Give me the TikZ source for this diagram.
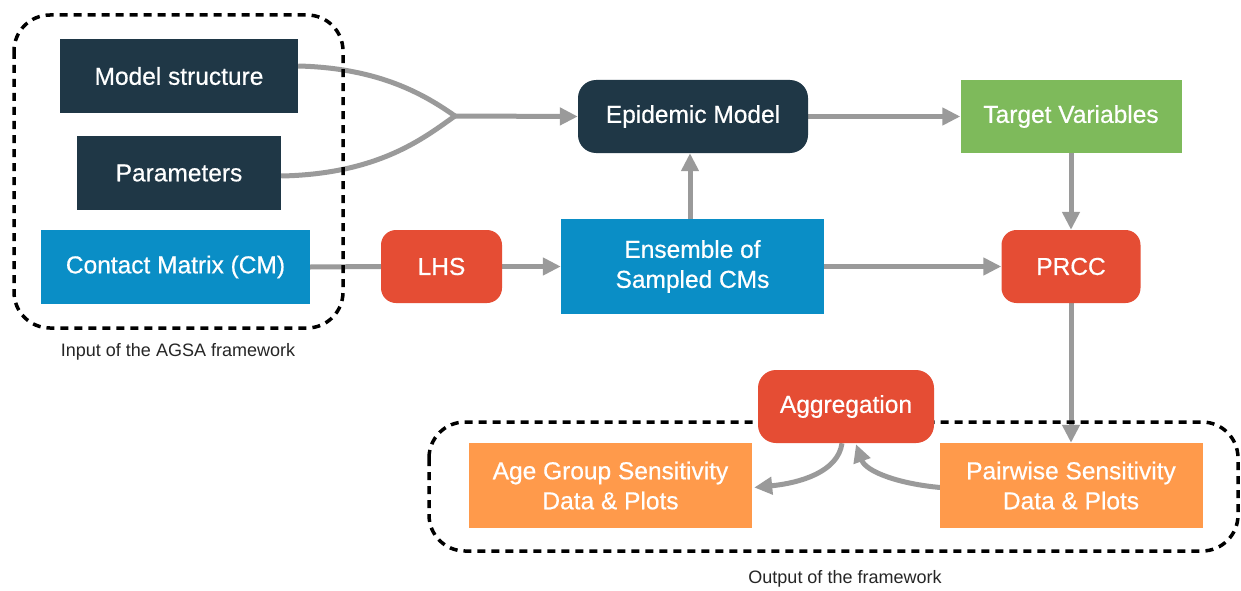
\documentclass[tikz,border=0pt]{standalone}
\usepackage{fontspec}
\setmainfont{Liberation Sans}
\newfontfamily\medfont[BoldFont={Liberation Sans},BoldFeatures={FakeBold=0.6}]{Liberation Sans}
\usetikzlibrary{arrows.meta,backgrounds,calc}

\definecolor{navy}{HTML}{1F3746}
\definecolor{skyblue}{HTML}{0A8EC6}
\definecolor{leaf}{HTML}{7EBA5B}
\definecolor{brick}{HTML}{E54D34}
\definecolor{tangerine}{HTML}{FF9A4B}
\definecolor{linkgray}{HTML}{9A9A9A}

\tikzset{
  box/.style={inner sep=0pt, align=center, text=white,
    font=\medfont\bfseries\fontsize{24.5}{30}\selectfont},
  flat/.style={box, fill=#1},
  soft/.style={box, fill=#1, rounded corners=18pt},
  link/.style={draw=linkgray, line width=5pt},
  arrow/.style={link, -{Triangle[length=18pt,width=17pt]}},
  frame/.style={draw=black, line width=3.5pt, dash pattern=on 8pt off 6pt,
    rounded corners=36pt},
  caption/.style={font=\fontsize{18}{22}\selectfont, text=black!85}
}

\begin{document}
\begin{tikzpicture}[x=1pt,y=-1pt]
\useasboundingbox (0,0) rectangle (1241,591);

% input side
\node[flat=navy, minimum width=238pt, minimum height=74pt] (model) at (179,76) {Model structure};
\node[flat=navy, minimum width=204pt, minimum height=74pt] (param) at (179,173) {Parameters};
\node[flat=skyblue, minimum width=269pt, minimum height=74pt] (cm) at (175.5,267) {Contact Matrix (CM)};

% main pipeline
\node[soft=navy, minimum width=230pt, minimum height=73pt] (epi) at (693,116.5) {Epidemic Model};
\node[flat=leaf, minimum width=221pt, minimum height=73pt] (target) at (1071,116.5) {Target Variables};
\node[soft=brick, rounded corners=15pt, minimum width=121pt, minimum height=73pt] (lhs) at (441.5,266.5) {LHS};
\node[flat=skyblue, minimum width=263pt, minimum height=95pt] (ens) at (692.5,266.5) {Ensemble of\\Sampled CMs};
\node[soft=brick, rounded corners=15pt, minimum width=139pt, minimum height=73pt] (prcc) at (1071,266.5) {PRCC};

% outputs
\node[soft=brick, minimum width=176pt, minimum height=73pt] (agg) at (846,406.5) {Aggregation};
\node[flat=tangerine, minimum width=283pt, minimum height=85pt] (age) at (610.5,485.5) {Age Group Sensitivity\\Data \& Plots};
\node[flat=tangerine, minimum width=263pt, minimum height=85pt] (pair) at (1071,485.5) {Pairwise Sensitivity\\Data \& Plots};

% captions
\node[caption] (incap) at (178,352) {Input of the AGSA framework};
\node[caption] (outcap) at (845,579) {Output of the framework};

\coordinate (join) at (455,116);

\begin{scope}[on background layer]
  \fill[white] (0,0) rectangle (1241,591);
  % connectors
  \draw[link] (model.east |- 0,66) .. controls (380,68) and (425,95) .. (join);
  \draw[link] (param.east |- 0,176) .. controls (380,174) and (425,137) .. (join);
  \draw[arrow] (join) -- (epi.west);
  \draw[arrow] (epi.east) -- (target.west);
  \draw[arrow] (target.south) -- (prcc.north);
  \draw[link] (cm.east) -- (lhs.west);
  \draw[arrow] (lhs.east) -- (ens.west);
  \draw[arrow] (ens.north -| 690,0) -- (epi.south -| 690,0);
  \draw[arrow] (ens.east) -- (prcc.west);
  \draw[arrow] (prcc.south) -- (pair.north);
  \draw[arrow] ($(agg.south)+(-4,0)$) .. controls (838,472) and (800,483) .. ($(age.east)+(2,2)$);
  \draw[arrow] ($(pair.west)+(1,2)$) .. controls (900,484) and (866,472) .. ($(agg.south)+(10,1)$);
  % group frames
  \draw[frame] (14,15) rectangle (343,328);
  \draw[frame] (429,422) rectangle (1238,551);
\end{scope}
\end{tikzpicture}
\end{document}
